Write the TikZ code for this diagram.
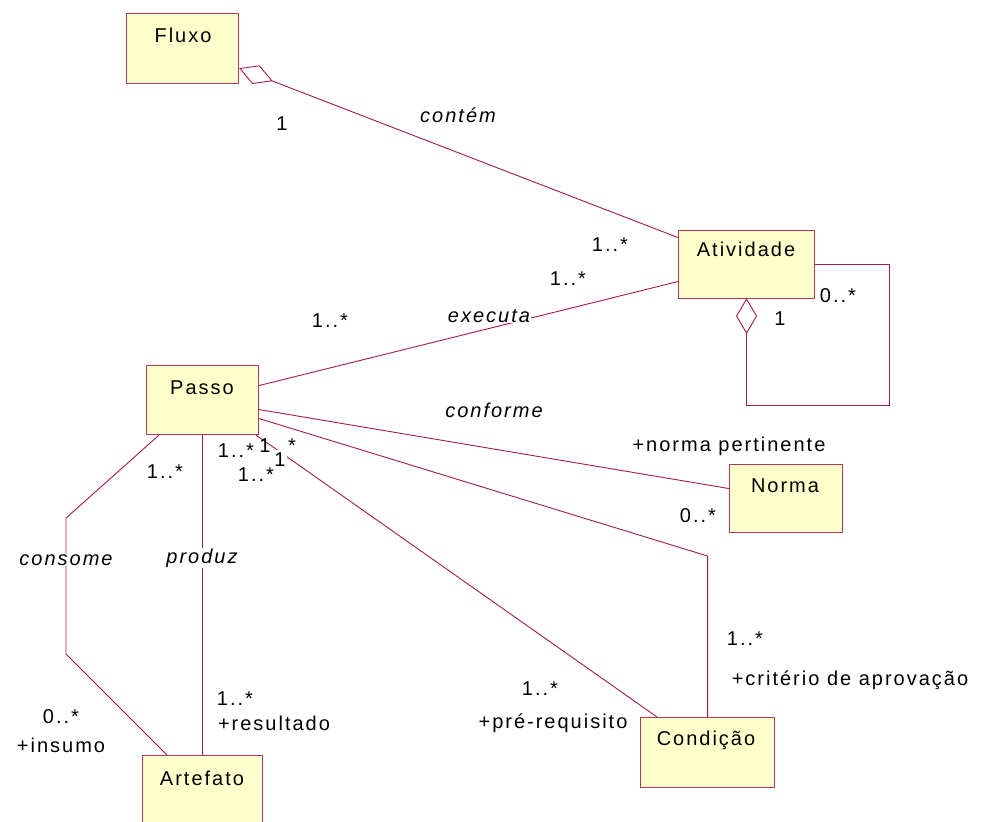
\documentclass[tikz,border=0pt]{standalone}
\usepackage{fontspec}
\setmainfont{Liberation Sans}[LetterSpace=10]
\usetikzlibrary{calc}
\definecolor{assoc}{HTML}{A31A4B}
\definecolor{boxline}{HTML}{B4385F}
\definecolor{boxfill}{HTML}{FFFFCC}
\begin{document}
\begin{tikzpicture}[x=1pt,y=-1pt,
  classbox/.style={draw=boxline, fill=boxfill, line width=1.1pt, inner sep=0pt, anchor=north west},
  cname/.style={anchor=base, inner sep=0pt, font=\fontsize{20}{24}\selectfont},
  mult/.style={anchor=base, inner sep=0pt, font=\fontsize{20}{24}\selectfont},
  assocname/.style={anchor=base, inner sep=1pt, fill=white, font=\fontsize{20}{24}\selectfont\itshape},
  link/.style={draw=assoc, line width=0.9pt},
  aggdiamond/.style={draw=assoc, line width=0.9pt, fill=white},
]
\useasboundingbox (0,0) rectangle (986,822);
\clip (0,0) rectangle (986,822);

% classes
\node[classbox, minimum width=112pt, minimum height=70pt] (fluxo) at (126,13) {};
\node[classbox, minimum width=136pt, minimum height=68pt] (ativ) at (678,230) {};
\node[classbox, minimum width=112pt, minimum height=69pt] (passo) at (146,365) {};
\node[classbox, minimum width=113pt, minimum height=68pt] (norma) at (729,464) {};
\node[classbox, minimum width=134pt, minimum height=70pt] (cond) at (640,717) {};
\node[classbox, minimum width=120pt, minimum height=85pt] (art) at (142,755) {};

\node[cname] (fluxo-t) at (183,42) {Fluxo};
\node[cname] (ativ-t) at (746,256) {Atividade};
\node[cname] (passo-t) at (202,394) {Passo};
\node[cname] (norma-t) at (785,492) {Norma};
\node[cname] (cond-t) at (706,745) {Condição};
\node[cname] (art-t) at (202,785) {Artefato};

% Fluxo <>-- Atividade (contém)
\coordinate (fx) at ([xshift=1pt,yshift=-20pt]fluxo.east);
\coordinate (aw1) at ([yshift=27pt]ativ.west);
\coordinate (fxtip) at ($(fx)!34pt!(aw1)$);
\draw[aggdiamond] (fx) -- ($(fx)!17pt!(aw1)!9.5pt!90:(aw1)$) -- (fxtip)
  -- ($(fx)!17pt!(aw1)!9.5pt!-90:(aw1)$) -- cycle;
\draw[link] (fxtip) -- (aw1);

% Atividade self aggregation
\coordinate (adtop) at (ativ.south);
\coordinate (adbot) at ($(ativ.south)+(0,34)$);
\draw[aggdiamond] (adtop) -- ($(ativ.south)+(10,17)$) -- (adbot) -- ($(ativ.south)+(-10,17)$) -- cycle;
\coordinate (loop1) at ($(ativ.east)+(74,0)$);
\coordinate (loop2) at ($(loop1)+(0,141)$);
\draw[link] (ativ.east) -- (loop1) -- (loop2) -| (adbot);

% Passo -- Atividade (executa)
\draw[link] ([yshift=-17pt]ativ.west) -- ([yshift=14.5pt]passo.east);

% Passo -- Norma (conforme)
\draw[link] ([yshift=-9.5pt]passo.east) -- ([yshift=10pt]norma.west);

% Passo -- Condição (critério de aprovação)
\coordinate (cbend) at ($(cond.north)+(0,-161)$);
\draw[link] ([yshift=-18.5pt]passo.east) -- (cbend) -- (cond.north);

% Passo -- Condição (pré-requisito)
\draw[link] ([xshift=-3pt]passo.south east) -- ([xshift=17pt]cond.north west);

% Passo -- Artefato (produz)
\draw[link] (passo.south) -- (art.north);

% Passo -- Artefato (consome)
\coordinate (cs1) at ($([xshift=13pt]passo.south west)+(-93,83)$);
\coordinate (cs2) at ($(cs1)+(0,136)$);
\draw[link] ([xshift=13pt]passo.south west) -- (cs1) -- (cs2) -- ([xshift=25pt]art.north west);

% association names
\node[assocname] (l-contem) at (458,122) {contém};
\node[assocname] (l-executa) at (489,322) {executa};
\node[assocname, fill=none] (l-conforme) at (494,417) {conforme};
\node[assocname] (l-consome) at (66,565) {consome};
\node[assocname] (l-produz) at (202,563) {produz};

% multiplicities and roles
\node[mult] (m1) at (282,130) {1};
\node[mult] (m2) at (610,251) {1..*};
\node[mult] (m3) at (568,285) {1..*};
\node[mult] (m4) at (838,302) {0..*};
\node[mult] (m5) at (780,325) {1};
\node[mult] (m6) at (330,327) {1..*};
\node[mult] (r1) at (729,451) {+norma pertinente};
\node[mult] (m7) at (698,522) {0..*};
\node[mult] (m8) at (165,478) {1..*};
\node[mult] (m9) at (236,457) {1..*};
\node[mult] (m10a) at (265,452) {1};
\node[mult] (m10b) at (292,452) {*};
\node[mult, fill=white, inner xsep=1pt, inner ysep=2pt] (m11) at (280,466) {1};
\node[mult] (m12) at (256,481) {1..*};
\node[mult] (m13) at (61,723) {0..*};
\node[mult] (r2) at (61,752) {+insumo};
\node[mult] (m14) at (235,705) {1..*};
\node[mult] (r3) at (274,730) {+resultado};
\node[mult] (m15) at (540,695) {1..*};
\node[mult] (r4) at (553,728) {+pré-requisito};
\node[mult] (m16) at (745,645) {1..*};
\node[mult] (r5) at (850,685) {+critério de aprovação};
\end{tikzpicture}
\end{document}
